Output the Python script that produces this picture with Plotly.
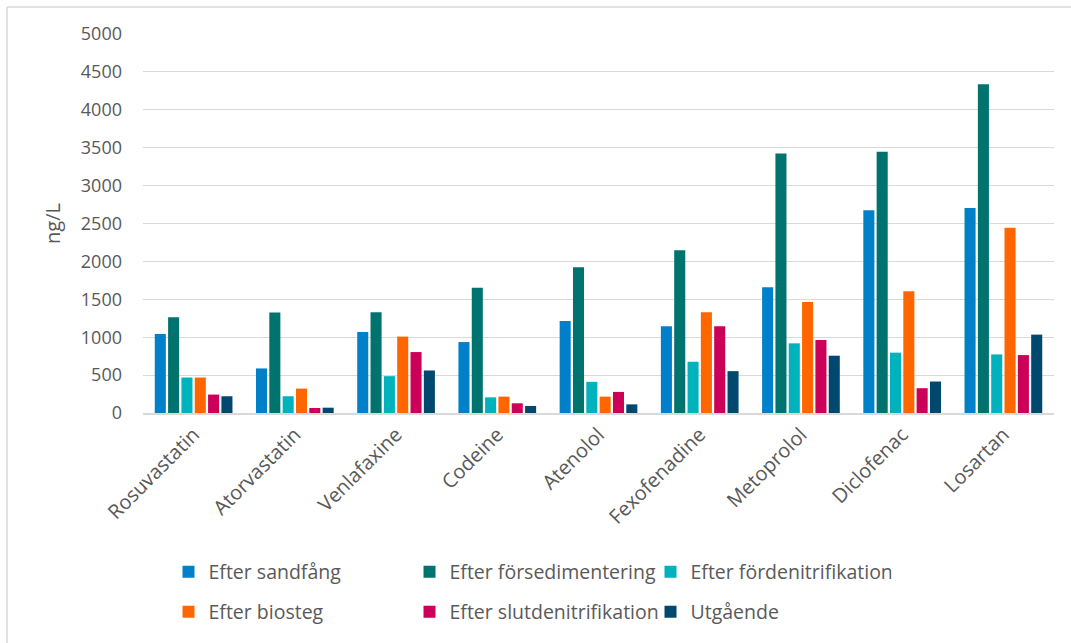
import plotly.graph_objects as go

# Pharmaceutical concentrations at each treatment stage (ng/L)
substances = ["Rosuvastatin", "Atorvastatin", "Venlafaxine", "Codeine", "Atenolol",
              "Fexofenadine", "Metoprolol", "Diclofenac", "Losartan"]

efter_sandfang = [1042, 588, 1069, 936, 1215, 1145, 1658, 2674, 2706]
efter_forsedimentering = [1264, 1326, 1330, 1653, 1923, 2148, 3422, 3448, 4337]
efter_fordenitrifikation = [468, 221, 486, 207, 411, 676, 919, 796, 773]
efter_biosteg = [468, 322, 1008, 216, 216, 1330, 1463, 1605, 2444]
efter_slutdenitrifikation = [243, 66, 804, 128, 278, 1145, 963, 327, 764]
utgaende = [221, 70, 561, 93, 114, 552, 756, 415, 1034]

series_names = ["Efter sandfång", "Efter försedimentering", "Efter fördenitrifikation",
                "Efter biosteg", "Efter slutdenitrifikation", "Utgående"]
series_values = [efter_sandfang, efter_forsedimentering, efter_fordenitrifikation,
                 efter_biosteg, efter_slutdenitrifikation, utgaende]
series_colors = ["#0080C8", "#00736E", "#00B2BB", "#FF6600", "#CC0058", "#00486E"]

y_ticks = [0, 500, 1000, 1500, 2000, 2500, 3000, 3500, 4000, 4500, 5000]

TEXT = "#595959"
FONT = "Open Sans, DejaVu Sans, sans-serif"

fig = go.Figure()
for i, (name, vals, col) in enumerate(zip(series_names, series_values, series_colors)):
    fig.add_trace(go.Bar(
        x=substances, y=vals, name=name,
        marker=dict(color=col, line=dict(width=0)),
        legend="legend" if i < 3 else "legend2",
    ))

legend_common = dict(
    orientation="h", xanchor="left", yanchor="middle",
    entrywidth=196, entrywidthmode="pixels",
    font=dict(family=FONT, size=19.5, color=TEXT),
    bgcolor="rgba(0,0,0,0)", itemclick=False, itemdoubleclick=False,
)

fig.update_layout(
    width=1071, height=643,
    margin=dict(l=143, r=17, t=34, b=230),
    paper_bgcolor="white", plot_bgcolor="white",
    barmode="group", bargap=0.21, bargroupgap=0.17,
    font=dict(family=FONT, color=TEXT, size=18),
    showlegend=True,
    legend=dict(x=0.028, y=-0.42, **legend_common),
    legend2=dict(x=0.028, y=-0.525, **legend_common),
    xaxis=dict(
        tickangle=-45, tickfont=dict(size=20, color=TEXT, family=FONT),
        showgrid=False, showline=True, linecolor="#D9D9D9", linewidth=2,
        ticks="", zeroline=False, fixedrange=True,
    ),
    yaxis=dict(
        range=[0, 5000], tickvals=y_ticks, ticktext=[str(v) for v in y_ticks],
        tickfont=dict(size=18, color=TEXT, family=FONT),
        showgrid=True, gridcolor="#D9D9D9", gridwidth=1,
        zeroline=False, showline=False, ticks="", ticklabelstandoff=20,
        title=dict(text="ng/L", font=dict(size=20, color=TEXT, family=FONT), standoff=14),
        fixedrange=True,
    ),
    shapes=[
        # chart frame (left and top edges)
        dict(type="line", xref="paper", yref="paper",
             x0=-136 / 911, x1=1.2, y0=(413 - 7) / 379, y1=(413 - 7) / 379,
             line=dict(color="#D9D9D9", width=1.5)),
        dict(type="line", xref="paper", yref="paper",
             x0=-136 / 911, x1=-136 / 911, y0=(413 - 7) / 379, y1=-1.0,
             line=dict(color="#D9D9D9", width=1.5)),
    ],
)

fig.write_html("out.html")
